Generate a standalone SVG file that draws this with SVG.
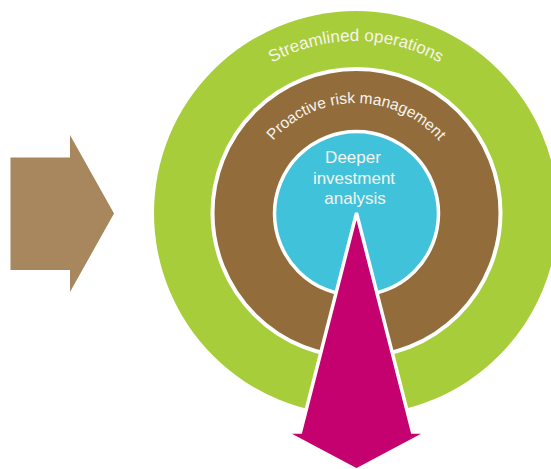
<svg xmlns="http://www.w3.org/2000/svg" xmlns:xlink="http://www.w3.org/1999/xlink" width="551" height="469" viewBox="0 0 551 469">
<style>
.lbl{font-family:"Liberation Sans","DejaVu Sans",sans-serif;fill:#F6F4EC;}
.ring{stroke:#FFFFFF;}
</style>
<defs>
<path id="arcOuter" d="M 184 213 A 172 172 0 0 1 528 213"/>
<path id="arcMid" d="M 246 213 A 110 110 0 0 1 466 213"/>
</defs>
<rect width="551" height="469" fill="#FFFFFF"/>
<g id="input-arrow">
<polygon points="10.5,157.5 70,157.5 70,135 114,213.5 70,292 70,270 10.5,270" fill="#A8875E"/>
</g>
<g id="streamlined-operations">
<circle cx="356" cy="213" r="202" fill="#A8CD3A"/>
<text class="lbl" font-size="17"><textPath xlink:href="#arcOuter" startOffset="50%" text-anchor="middle">Streamlined operations</textPath></text>
</g>
<g id="proactive-risk-management">
<circle class="ring" cx="356.5" cy="213" r="144" fill="#936C3C" stroke-width="4"/>
<text class="lbl" font-size="15.5"><textPath xlink:href="#arcMid" startOffset="50%" text-anchor="middle">Proactive risk management</textPath></text>
</g>
<g id="deeper-investment-analysis">
<circle class="ring" cx="356.5" cy="213.5" r="82" fill="#41C2DB" stroke-width="3.5"/>
<text class="lbl" font-size="17" text-anchor="middle"><tspan x="353" y="163">Deeper</tspan><tspan x="354" y="183.5">investment</tspan><tspan x="355" y="204">analysis</tspan></text>
</g>
<g id="connectors">
<polygon points="356.5,213 412.5,432 428,432 356.5,470 285,432 300.5,432" fill="#C5006F" stroke="#FFFFFF" stroke-width="3.5" stroke-linejoin="miter"/>
</g>
</svg>
